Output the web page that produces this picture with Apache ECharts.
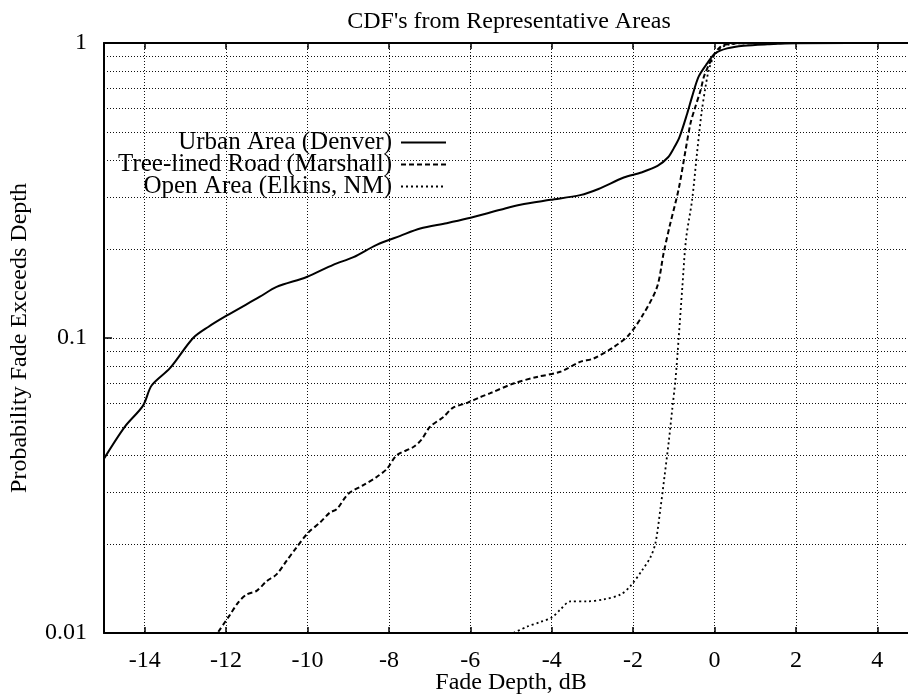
<!DOCTYPE html>
<html>
<head>
<meta charset="utf-8">
<script src="https://cdn.jsdelivr.net/npm/echarts@6/dist/echarts.min.js"></script>
<style>html,body{margin:0;padding:0;background:#fff}#c{width:908px;height:695px}</style>
</head>
<body>
<div id="c"></div>
<script>
// ---- data ----
const seriesNames = ['Urban Area (Denver)', 'Tree-lined Road (Marshall)', 'Open Area (Elkins, NM)'];

const urbanX = [-15, -14.49, -14.04, -13.83, -13.38, -12.81, -12.44, -11.99, -11.17, -10.76, -10.02, -9.37, -8.87, -8.3, -7.72, -7.23, -6.58, -6.08, -5.26, -4.77, -4.03, -3.3, -2.85, -2.23, -1.8, -1.4, -1.14, -1.0, -0.86, -0.67, -0.55, -0.39, -0.18, 0.02, 0.31, 0.72, 1.3, 2.0, 5.0];
const urbanY = [0.039, 0.05, 0.059, 0.069, 0.079, 0.1, 0.109, 0.119, 0.138, 0.149, 0.161, 0.177, 0.188, 0.207, 0.222, 0.235, 0.245, 0.254, 0.272, 0.283, 0.294, 0.305, 0.32, 0.35, 0.364, 0.383, 0.41, 0.44, 0.48, 0.577, 0.658, 0.769, 0.853, 0.923, 0.959, 0.979, 0.99, 0.998, 1.0];

const treeX = [-12.19, -11.91, -11.7, -11.5, -11.25, -11.0, -10.76, -10.51, -10.27, -9.98, -9.69, -9.45, -9.28, -9.0, -8.63, -8.3, -8.05, -7.81, -7.4, -7.2, -6.99, -6.66, -6.43, -6.06, -5.76, -5.51, -4.94, -4.36, -3.79, -3.3, -2.97, -2.47, -2.11, -1.74, -1.41, -1.25, -1.1, -0.88, -0.71, -0.59, -0.47, -0.34, -0.26, -0.14, -0.02, 0.11, 0.23, 0.6, 5.0];
const treeY = [0.0101, 0.0115, 0.0127, 0.0135, 0.0139, 0.015, 0.0158, 0.0176, 0.0195, 0.0219, 0.0237, 0.0256, 0.0263, 0.0296, 0.0317, 0.0338, 0.036, 0.04, 0.0427, 0.0452, 0.05, 0.054, 0.058, 0.0604, 0.063, 0.065, 0.0701, 0.0738, 0.0768, 0.083, 0.0852, 0.0933, 0.1022, 0.121, 0.149, 0.194, 0.24, 0.32, 0.434, 0.534, 0.608, 0.693, 0.769, 0.842, 0.91, 0.96, 0.985, 0.998, 1.0];

const openX = [-4.94, -4.61, -4.28, -3.99, -3.79, -3.54, -3.13, -2.72, -2.31, -2.07, -1.78, -1.57, -1.45, -1.33, -1.23, -1.12, -1.04, -0.96, -0.88, -0.79, -0.7, -0.55, -0.43, -0.32, -0.22, -0.14, -0.02, 0.15, 0.31, 0.7, 5.0];
const openY = [0.01, 0.0105, 0.0109, 0.0113, 0.012, 0.0128, 0.0128, 0.013, 0.0135, 0.0144, 0.0163, 0.0181, 0.0202, 0.0263, 0.0338, 0.045, 0.0571, 0.072, 0.1, 0.149, 0.216, 0.294, 0.423, 0.577, 0.711, 0.81, 0.899, 0.96, 0.985, 0.998, 1.0];

const yMinorGrid = [0.02, 0.03, 0.04, 0.05, 0.06, 0.07, 0.08, 0.09, 0.2, 0.3, 0.4, 0.5, 0.6, 0.7, 0.8, 0.9];

const zip = (xs, ys) => xs.map((x, i) => [x, ys[i]]);

const FONT = '"Liberation Serif", "DejaVu Serif", serif';
const gridDot = { color: '#111', width: 1, type: [1, 2] };

const chart = echarts.init(document.getElementById('c'), null, { renderer: 'canvas' });
chart.setOption({
  animation: false,
  backgroundColor: '#fff',
  title: {
    text: "CDF's from Representative Areas",
    left: 509, textAlign: 'center', top: 10, padding: 0,
    textStyle: { fontFamily: FONT, fontSize: 24, fontWeight: 'normal', color: '#000' }
  },
  legend: {
    orient: 'vertical', align: 'right',
    right: 461, top: 130, padding: 0,
    itemWidth: 45, itemHeight: 14, itemGap: -3,
    itemStyle: { opacity: 0, color: 'rgba(0,0,0,0)', borderWidth: 0 },
    textStyle: { fontFamily: FONT, fontSize: 25, color: '#000', lineHeight: 21.5, padding: [0, 4, 0, 0] },
    data: seriesNames
  },
  grid: { left: 104, right: -10, top: 43, bottom: 62, containLabel: false, outerBoundsMode: 'none' },
  xAxis: [{
    type: 'value', min: -15, max: 5, splitNumber: 10,
    name: 'Fade Depth, dB', nameLocation: 'middle', nameGap: 38, nameMoveOverlap: false,
    nameTextStyle: { fontFamily: FONT, fontSize: 24, color: '#000', verticalAlign: 'top' },
    axisLine: { onZero: false, lineStyle: { color: '#000', width: 2 } },
    axisTick: { inside: true, length: 6, lineStyle: { color: '#000', width: 1.5 } },
    axisLabel: { fontFamily: FONT, fontSize: 24, color: '#000', margin: 16, showMinLabel: false, showMaxLabel: false },
    splitLine: { show: true, lineStyle: gridDot }
  }, {
    type: 'value', position: 'top', min: -15, max: 5, splitNumber: 10,
    axisLine: { show: true, onZero: false, lineStyle: { color: '#000', width: 2 } },
    axisTick: { inside: true, length: 6, lineStyle: { color: '#000', width: 1.5 } },
    axisLabel: { show: false }, splitLine: { show: false }
  }],
  yAxis: {
    type: 'log', logBase: 10, min: 0.01, max: 1,
    name: 'Probability Fade Exceeds Depth', nameLocation: 'middle', nameGap: 72, nameMoveOverlap: false,
    nameTextStyle: { fontFamily: FONT, fontSize: 24, color: '#000' },
    axisLine: { show: true, onZero: false, lineStyle: { color: '#000', width: 2 } },
    axisTick: { show: true, inside: true, length: 8, lineStyle: { color: '#000', width: 1.5 } },
    axisLabel: { fontFamily: FONT, fontSize: 24, color: '#000', margin: 17 },
    splitLine: { show: true, lineStyle: gridDot }
  },
  series: [
    {
      name: seriesNames[0], type: 'line', data: zip(urbanX, urbanY),
      showSymbol: false, symbol: 'none', smooth: 0.3, z: 5,
      lineStyle: { color: '#000', width: 2, type: 'solid' },
      itemStyle: { color: '#000' },
      markLine: {
        silent: true, symbol: 'none', label: { show: false }, z: 1,
        lineStyle: gridDot, animation: false,
        data: yMinorGrid.map(v => ({ yAxis: v }))
      }
    },
    {
      name: seriesNames[1], type: 'line', data: zip(treeX, treeY),
      showSymbol: false, symbol: 'none', smooth: 0.3, z: 5,
      lineStyle: { color: '#000', width: 2, type: [5, 3] },
      itemStyle: { color: '#000' }
    },
    {
      name: seriesNames[2], type: 'line', data: zip(openX, openY),
      showSymbol: false, symbol: 'none', smooth: 0.3, z: 5,
      lineStyle: { color: '#000', width: 1.8, type: [2, 3] },
      itemStyle: { color: '#000' }
    }
  ]
});
</script>
</body>
</html>
